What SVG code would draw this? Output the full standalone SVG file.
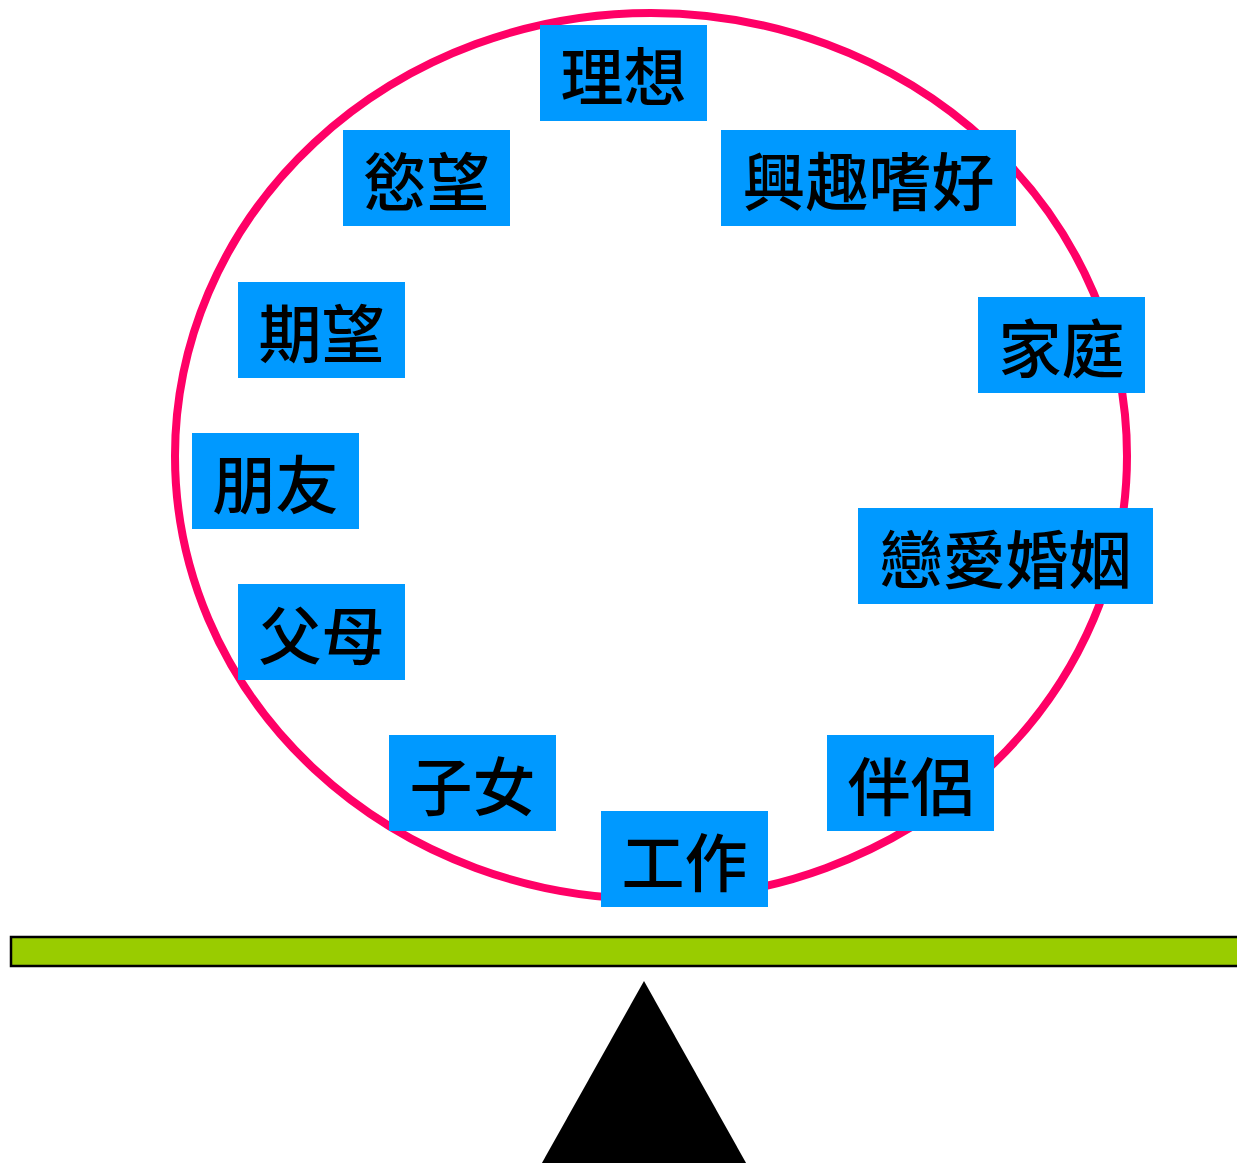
<svg xmlns="http://www.w3.org/2000/svg" width="1237" height="1163" viewBox="0 0 1237 1163">
<style>
.box{fill:#0099FF}
.lbl{font-family:"Noto Sans CJK TC","Noto Sans CJK SC",sans-serif;font-size:63px;font-weight:500;fill:#000;text-anchor:middle}
</style>
<rect width="1237" height="1163" fill="#fff"/>
<g id="ring"><ellipse cx="651" cy="456" rx="476" ry="443" fill="none" stroke="#FF0066" stroke-width="8"/></g>
<g id="beam"><rect x="11" y="937" width="1230" height="29" fill="#99CC00" stroke="#000" stroke-width="2.5"/></g>
<g id="fulcrum"><polygon points="644,981 538,1170 750,1170" fill="#000"/></g>
<g id="connectors"></g>
<g id="n-lixiang"><rect class="box" x="540" y="25" width="167" height="96"/><text class="lbl" x="623.5" y="100">理想</text></g>
<g id="n-yuwang"><rect class="box" x="343" y="130" width="167" height="96"/><text class="lbl" x="426.5" y="205">慾望</text></g>
<g id="n-xingqu"><rect class="box" x="721" y="130" width="295" height="96"/><text class="lbl" x="868.5" y="205">興趣嗜好</text></g>
<g id="n-qiwang"><rect class="box" x="238" y="282" width="167" height="96"/><text class="lbl" x="321.5" y="357">期望</text></g>
<g id="n-jiating"><rect class="box" x="978" y="297" width="167" height="96"/><text class="lbl" x="1061.5" y="372">家庭</text></g>
<g id="n-pengyou"><rect class="box" x="192" y="433" width="167" height="96"/><text class="lbl" x="275.5" y="508">朋友</text></g>
<g id="n-lianai"><rect class="box" x="858" y="508" width="295" height="96"/><text class="lbl" x="1005.5" y="583">戀愛婚姻</text></g>
<g id="n-fumu"><rect class="box" x="238" y="584" width="167" height="96"/><text class="lbl" x="321.5" y="659">父母</text></g>
<g id="n-zinv"><rect class="box" x="389" y="735" width="167" height="96"/><text class="lbl" x="472.5" y="810">子女</text></g>
<g id="n-banlv"><rect class="box" x="827" y="735" width="167" height="96"/><text class="lbl" x="910.5" y="810">伴侶</text></g>
<g id="n-gongzuo"><rect class="box" x="601" y="811" width="167" height="96"/><text class="lbl" x="684.5" y="886">工作</text></g>
</svg>
